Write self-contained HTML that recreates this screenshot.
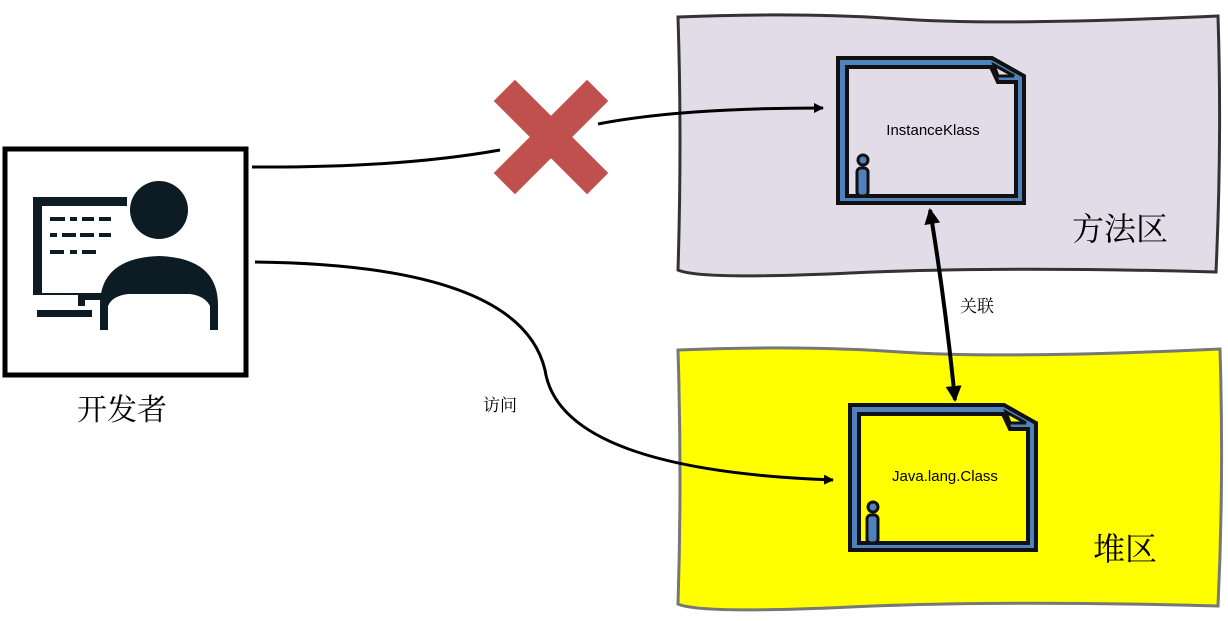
<!DOCTYPE html>
<html><head><meta charset="utf-8"><style>
body{margin:0;width:1228px;height:616px;background:#fff;overflow:hidden;font-family:"Liberation Sans","Noto Serif CJK SC",serif}
</style></head><body>
<svg width="1228" height="616" viewBox="0 0 1228 616" xmlns="http://www.w3.org/2000/svg">
<defs>
<marker id="a" markerWidth="10" markerHeight="10" refX="9" refY="5" orient="auto" markerUnits="userSpaceOnUse"><path d="M0,0 L10,5 L0,10 z" fill="#000"/></marker>
<marker id="b" markerWidth="16" markerHeight="16" refX="14" refY="8" orient="auto-start-reverse" markerUnits="userSpaceOnUse"><path d="M0,0 L16,8 L0,16 z" fill="#000"/></marker>
</defs>
<path d="M678,17 Q800,12 900,19 T1218,16 Q1222,140 1216,272 Q1000,266 850,273 T678,270 Q682,140 678,17z" fill="#e2dce8" stroke="#333" stroke-width="3"/>
<path d="M678,350 Q800,345 900,352 T1220,349 Q1224,480 1218,606 Q1000,600 850,607 T678,604 Q682,480 678,350z" fill="#ffff00" stroke="#777" stroke-width="3"/>
<text x="1120" y="240" font-size="32" text-anchor="middle" font-family="Noto Serif CJK SC, serif">方法区</text>
<text x="1125" y="560" font-size="32" text-anchor="middle" font-family="Noto Serif CJK SC, serif">堆区</text>
<g transform="translate(836,56)">
<path d="M2,2 H156 L188,20 V147 H2 Z" fill="#4f81bd" stroke="#111" stroke-width="4"/>
<path d="M11,11 H155 L162,26 H180 V140 H11 Z" fill="#e2dce8" stroke="#111" stroke-width="4"/>
<path d="M158,9 L178,20 L162,20 Z" fill="#e2dce8" stroke="#111" stroke-width="3"/>
<circle cx="27" cy="104" r="5" fill="#4f81bd" stroke="#111" stroke-width="3"/>
<rect x="21" y="112" width="11" height="28" rx="4" fill="#4f81bd" stroke="#111" stroke-width="3"/>
<text x="97" y="79" font-size="15" text-anchor="middle" font-family="Liberation Sans,sans-serif">InstanceKlass</text>
</g>
<g transform="translate(848,403)">
<path d="M2,2 H156 L188,20 V147 H2 Z" fill="#4f81bd" stroke="#111" stroke-width="4"/>
<path d="M11,11 H155 L162,26 H180 V140 H11 Z" fill="#ffff00" stroke="#111" stroke-width="4"/>
<path d="M158,9 L178,20 L162,20 Z" fill="#ffff00" stroke="#111" stroke-width="3"/>
<circle cx="25" cy="104" r="5" fill="#4f81bd" stroke="#111" stroke-width="3"/>
<rect x="19" y="112" width="11" height="28" rx="4" fill="#4f81bd" stroke="#111" stroke-width="3"/>
<text x="97" y="78" font-size="15" text-anchor="middle" font-family="Liberation Sans,sans-serif">Java.lang.Class</text>
</g>
<rect x="5" y="149" width="241" height="226" fill="#fff" stroke="#000" stroke-width="5"/>
<path d="M33,197 H127 V206 H42 V293 H112 V300 H85 V306 H78 V295 H33 Z" fill="#0d1b24"/>
<rect x="37" y="310" width="55" height="7" fill="#0d1b24"/>
<g fill="#0d1b24"><rect x="50" y="217" width="15" height="4"/><rect x="70" y="217" width="7" height="4"/><rect x="82" y="217" width="12" height="4"/><rect x="99" y="217" width="12" height="4"/>
<rect x="50" y="233" width="7" height="4"/><rect x="62" y="233" width="14" height="4"/><rect x="80" y="233" width="14" height="4"/><rect x="99" y="233" width="12" height="4"/>
<rect x="50" y="250" width="14" height="4"/><rect x="70" y="250" width="7" height="4"/><rect x="82" y="250" width="14" height="4"/></g>
<circle cx="159" cy="210" r="29" fill="#0d1b24"/>
<path d="M100,330 V305 Q100,258 159,256 Q218,258 218,305 V330 H210 V306 Q205,296 190,294 H128 Q112,296 108,306 V330 Z" fill="#0d1b24"/>
<text x="122" y="420" font-size="30" text-anchor="middle" font-family="Noto Serif CJK SC, serif">开发者</text>
<path d="M252,167 Q400,168 500,150" fill="none" stroke="#000" stroke-width="3"/>
<path d="M598,124 Q680,108 823,108" fill="none" stroke="#000" stroke-width="3" marker-end="url(#a)"/>
<path d="M255,262 Q520,265 545,370 Q560,470 833,480" fill="none" stroke="#000" stroke-width="3" marker-end="url(#a)"/>
<text x="500" y="411" font-size="17" text-anchor="middle" font-family="Noto Serif CJK SC, serif">访问</text>
<path d="M930,210 Q945,300 955,400" fill="none" stroke="#000" stroke-width="4" marker-start="url(#b)" marker-end="url(#b)"/>
<text x="977" y="312" font-size="17" text-anchor="middle" font-family="Noto Serif CJK SC, serif">关联</text>
<g transform="translate(551,137) rotate(45)" fill="#c0504d">
<rect x="-66" y="-15" width="132" height="30"/>
<rect x="-15" y="-66" width="30" height="132"/>
</g>
</svg>
</body></html>
